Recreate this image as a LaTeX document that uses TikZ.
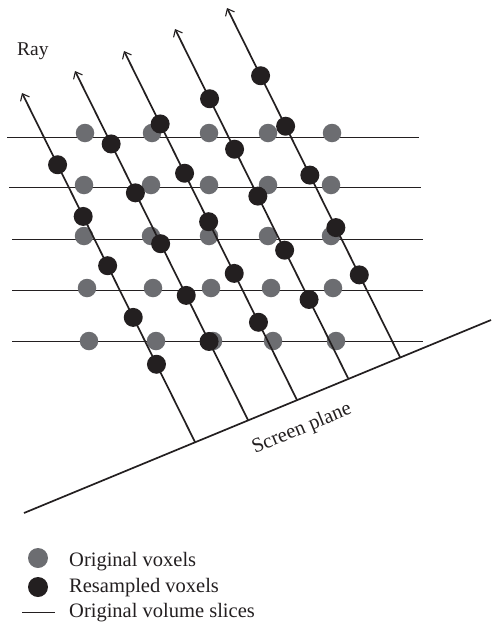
\documentclass[tikz,border=0pt]{standalone}
\usepackage{fontspec}
\setmainfont{Liberation Serif}
\usetikzlibrary{arrows.meta,calc}
\definecolor{voxgrey}{RGB}{108,109,113}
\definecolor{voxblack}{RGB}{35,31,32}
\begin{document}
\begin{tikzpicture}[x=1pt,y=-1pt,
  slice/.style={line width=1pt, draw=voxblack},
  raypath/.style={line width=1.7pt, draw=voxblack,
    -{Straight Barb[length=6pt,width=10pt,line width=1.1pt]}},
  plane/.style={line width=1.7pt, draw=voxblack},
  orig/.style={circle, fill=voxgrey, minimum size=18.5pt, inner sep=0pt},
  resamp/.style={circle, fill=voxblack, minimum size=19pt, inner sep=0pt},
  lbl/.style={font=\fontsize{20.5}{24}\selectfont, text=voxblack, inner sep=0pt}]
\useasboundingbox (0,0) rectangle (491,627);

% original volume slices
\foreach \i/\y/\xl/\xr in {1/137/7/419, 2/187/9/421, 3/239/12/423, 4/290/12/423, 5/341/12/423}{
  \coordinate (sL\i) at (\xl,\y);
  \coordinate (sR\i) at (\xr,\y);
  \draw[slice] (sL\i) -- (sR\i);
}

% original voxels on the slices
\foreach \r/\y/\xa/\xb/\xc/\xd/\xe in {1/133/85/152/209/268/332, 2/185/84/151/209/268/331,
    3/236/84/151/209/268/331, 4/288/87/153/211/271/333, 5/341/89/156/213/273/336}{
  \foreach \c/\x in {1/\xa, 2/\xb, 3/\xc, 4/\xd, 5/\xe}
    \node[orig] (g\r\c) at (\x,\y) {};
}

% rays leaving the screen plane
\foreach \r/\x/\y in {1/195/442, 2/248/420, 3/297/400, 4/348/378, 5/400/357}{
  \coordinate (f\r) at (\x,\y);
  \coordinate (t\r) at ($(f\r)+(-173,-349)$);
  \draw[raypath] (f\r) -- (t\r);
}

% resampled voxels along each ray (projected onto the ray)
\foreach \r/\pts in {1/{59/164,84/216,109/265,134/317,157/364},
                     2/{113/143,137/192,162/243,187/295,208/342},
                     3/{162/123,185/173,210/221,235/273,257/323},
                     4/{211/98,237/148,260/195,285/250,310/299},
                     5/{262/75,286/126,310/175,337/227,359/275}}{
  \foreach \px/\py [count=\k] in \pts{
    \coordinate (q) at (\px,\py);
    \node[resamp] (b\r\k) at ($(f\r)!(q)!(t\r)$) {};
  }
}

% screen plane
\coordinate (sp1) at (24,513);
\coordinate (sp2) at (491,320);
\draw[plane] (sp1) -- (sp2);
\node[lbl, rotate=22.4] (sptext) at (302,429) {Screen plane};

\node[lbl, font=\fontsize{19.5}{23}\selectfont, anchor=base west] (raytext) at (17,55) {Ray};

% legend
\node[orig, minimum size=20pt] (lg1) at (38,558) {};
\node[resamp, minimum size=20pt] (lg2) at (38,587) {};
\coordinate (lg3a) at (22,612);
\coordinate (lg3b) at (55,612);
\draw[slice] (lg3a) -- (lg3b);
\node[lbl, anchor=base west] (lt1) at (69,566) {Original voxels};
\node[lbl, anchor=base west] (lt2) at (69,592) {Resampled voxels};
\node[lbl, anchor=base west] (lt3) at (69,617) {Original volume slices};
\end{tikzpicture}
\end{document}
